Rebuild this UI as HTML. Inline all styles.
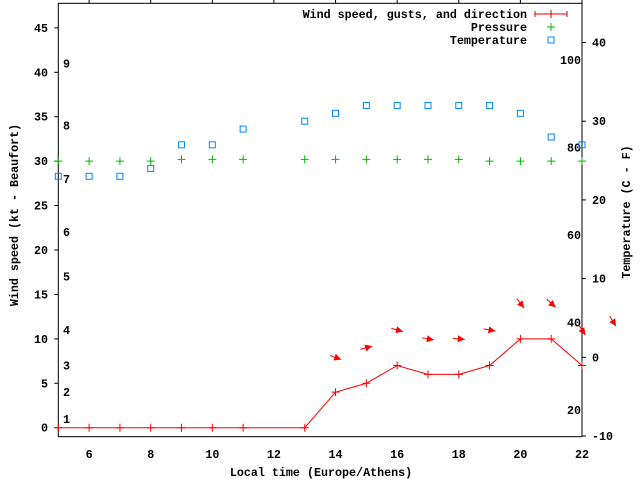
<!DOCTYPE html>
<html><head><meta charset="utf-8"><style>
body{margin:0;background:#fff}
svg{display:block}
text{font-family:"Liberation Mono",monospace;font-weight:bold;font-size:11.7px;fill:#000}
</style></head><body>
<svg width="640" height="480" viewBox="0 0 640 480">
<g id="g"></g>
</svg>
<script>
const hours=[5,6,7,8,9,10,11,13,14,15,16,17,18,19,20,21,22];
const wind=[0,0,0,0,0,0,0,0,4,5,7,6,6,7,10,10,7];
const pHours=[5,6,7,8,9,10,11,13,14,15,16,17,18,19,20,21,22];
const pressure=[30,30,30,30,30.2,30.2,30.2,30.2,30.2,30.2,30.2,30.2,30.2,30,30,30,30];
const tHours=[5,6,7,8,9,10,11,13,14,15,16,17,18,19,20,21,22];
const temp=[23,23,23,24,27,27,29,30,31,32,32,32,32,32,31,28,27];
const dirHours=[14,15,16,17,18,19,20,21,22,23];
const dirLevel=[7.9,9,11,10,10,11,14,14,11,12];
const dirAngle=[20,-15,15,10,5,10,52,42,57,58];
const xTicks=[6,8,10,12,14,16,18,20,22];
const yTicks=[0,5,10,15,20,25,30,35,40,45];
const cTicks=[-10,0,10,20,30,40];
const fTicks=[20,40,60,80,100];
const bft=[1,2,3,4,5,6,7,8,9];
const bftKt=[1,4,7,11,17,22,28,34,41];

const L=58.3,R=582,T=3.3,B=436.7;
const X=h=>L+(h-5)*(R-L)/17;
const Y=v=>427.7-v*8.885;
const YC=c=>357.3-c*7.87;
const NS='http://www.w3.org/2000/svg';
const g=document.getElementById('g');
function el(tag,attrs,name,txt){const e=document.createElementNS(NS,tag);for(const k in attrs)e.setAttribute(k,attrs[k]);


if(txt!==undefined)e.textContent=txt;g.appendChild(e);return e;}
el('rect',{x:L,y:T,width:R-L,height:B-T,fill:'none',stroke:'#000','stroke-width':1},'plot-frame');
xTicks.forEach(h=>{const x=X(h);
 el('line',{x1:x,y1:T,x2:x,y2:T-4,stroke:'#000'},'x-tick-top');
 el('text',{x:x,y:458,'text-anchor':'middle'},'x-tick-label',String(h));});
yTicks.forEach(v=>{const y=Y(v);
 el('line',{x1:L,y1:y,x2:L-4,y2:y,stroke:'#000'},'y-tick');
 el('text',{x:48,y:y+4,'text-anchor':'end'},'y-tick-label',String(v));});
cTicks.forEach(c=>{const y=YC(c);
 el('line',{x1:R,y1:y,x2:R+4,y2:y,stroke:'#000'},'y2-tick');
 el('text',{x:592,y:y+4},'y2-tick-label',String(c));});
fTicks.forEach(f=>{const y=YC((f-32)*5/9);
 el('text',{x:581,y:y+4,'text-anchor':'end'},'fahrenheit-label',String(f));});
bft.forEach((b,i)=>{el('text',{x:63,y:Y(bftKt[i])+4},'beaufort-label',String(b));});
el('text',{x:321,y:476,'text-anchor':'middle'},'x-axis-title','Local time (Europe/Athens)');
el('text',{x:0,y:0,'text-anchor':'middle',transform:'translate(18,215) rotate(-90)'},'y-axis-title','Wind speed (kt - Beaufort)');
el('text',{x:0,y:0,'text-anchor':'middle',transform:'translate(630,212) rotate(-90)'},'y2-axis-title','Temperature (C - F)');
el('polyline',{points:hours.map((h,i)=>X(h)+','+Y(wind[i])).join(' '),fill:'none',stroke:'#f00','stroke-width':1},'wind-line');
hours.forEach((h,i)=>{const x=X(h),y=Y(wind[i]);
 el('path',{d:`M${x-4},${y}H${x+4}M${x},${y-4}V${y+4}`,stroke:'#f00'},'wind-point');});
dirHours.forEach((h,i)=>{const cx=X(h),cy=Y(dirLevel[i]);const a=dirAngle[i]*Math.PI/180;
 const dx=Math.cos(a),dy=Math.sin(a);const x1=cx-6*dx,y1=cy-6*dy,x2=cx+6*dx,y2=cy+6*dy;
 const px=-dy,py=dx;
 el('line',{x1:x1,y1:y1,x2:x2,y2:y2,stroke:'#f00'},'direction-arrow-shaft');
 el('polygon',{points:`${x2},${y2} ${x2-7*dx+3.5*px},${y2-7*dy+3.5*py} ${x2-7*dx-3.5*px},${y2-7*dy-3.5*py}`,fill:'#f00'},'direction-arrow-head');});
pHours.forEach((h,i)=>{const x=X(h),y=Y(pressure[i]);
 el('path',{d:`M${x-4},${y}H${x+4}M${x},${y-4}V${y+4}`,stroke:'#0b0'},'pressure-point');});
tHours.forEach((h,i)=>{const x=X(h),y=YC(temp[i]);
 el('rect',{x:x-3,y:y-3,width:6,height:6,fill:'none',stroke:'#08f'},'temperature-point');});
el('text',{x:527,y:18,'text-anchor':'end'},'legend-wind-label','Wind speed, gusts, and direction');
el('path',{d:'M535,14H567M535,11V17M567,11V17M551,10V18',stroke:'#d00'},'legend-wind-sample');
el('text',{x:527,y:31,'text-anchor':'end'},'legend-pressure-label','Pressure');
el('path',{d:'M547,27H555M551,23V31',stroke:'#0b0'},'legend-pressure-sample');
el('text',{x:527,y:44,'text-anchor':'end'},'legend-temperature-label','Temperature');
el('rect',{x:548,y:37,width:6,height:6,fill:'none',stroke:'#08f'},'legend-temperature-sample');
</script>
</body></html>
